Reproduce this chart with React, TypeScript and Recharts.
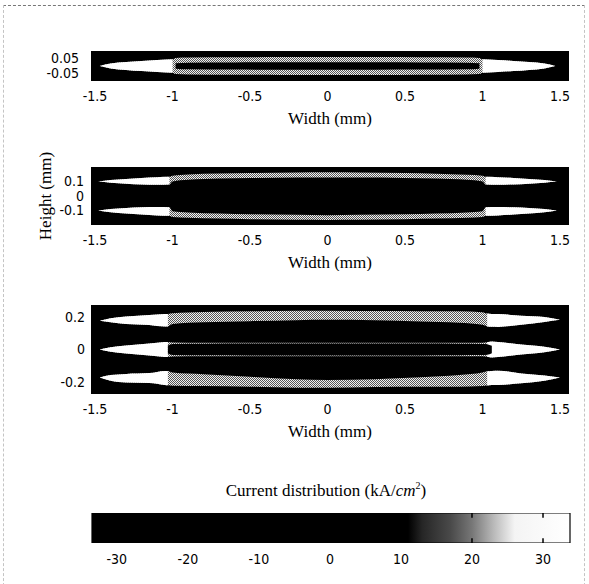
import React from "react"
import { ComposedChart, Area, XAxis, YAxis, CartesianGrid, ReferenceLine } from "recharts"

// x axis shared by the three cross sections (mm)
const widthTicks = [-1.5, -1, -0.5, 0, 0.5, 1, 1.5]
const widthDomain = [-1.526, 1.558]

// panel 1: thin strip, half thickness of the bright lens and the black core
const p1X = [-1.47, -1.4, -1.3, -1.2, -1.1, -1.0, -0.98, -0.9, -0.6, -0.3, 0, 0.3, 0.6, 0.9, 0.98, 1.0, 1.1, 1.2, 1.3, 1.4, 1.47]
const p1Outer = [0, 0.016, 0.026, 0.034, 0.04, 0.045, 0.054, 0.056, 0.058, 0.06, 0.06, 0.06, 0.058, 0.056, 0.054, 0.045, 0.04, 0.034, 0.026, 0.016, 0]
const p1Core = [null, null, null, null, null, null, 0.018, 0.022, 0.024, 0.025, 0.025, 0.025, 0.024, 0.022, 0.018, null, null, null, null, null, null]
const p1TipEdge = 1.0
const p1YTicks = [-0.05, 0.05]
const p1YDomain = [-0.1, 0.1]

// panel 2: upper and lower edge bands
const p2X = [-1.48, -1.4, -1.3, -1.2, -1.1, -1.02, -1.0, -0.9, -0.7, -0.5, -0.2, 0, 0.2, 0.5, 0.7, 0.9, 1.0, 1.02, 1.1, 1.2, 1.3, 1.4, 1.48]
const p2UpLo = [0.1, 0.092, 0.085, 0.08, 0.078, 0.08, 0.1, 0.112, 0.12, 0.124, 0.128, 0.128, 0.128, 0.125, 0.12, 0.112, 0.1, 0.08, 0.078, 0.08, 0.085, 0.092, 0.1]
const p2UpHi = [0.1, 0.11, 0.118, 0.125, 0.13, 0.132, 0.14, 0.148, 0.155, 0.158, 0.162, 0.163, 0.162, 0.158, 0.154, 0.147, 0.14, 0.132, 0.13, 0.125, 0.118, 0.11, 0.1]
const p2LowLo = [-0.1, -0.112, -0.12, -0.128, -0.134, -0.136, -0.145, -0.15, -0.156, -0.16, -0.164, -0.165, -0.164, -0.16, -0.156, -0.15, -0.145, -0.136, -0.134, -0.128, -0.12, -0.112, -0.1]
const p2LowHi = [-0.1, -0.09, -0.083, -0.078, -0.076, -0.078, -0.105, -0.113, -0.12, -0.126, -0.13, -0.132, -0.13, -0.126, -0.12, -0.113, -0.105, -0.078, -0.076, -0.078, -0.083, -0.09, -0.1]
const p2TipEdge = 1.02
const p2YTicks = [-0.1, 0, 0.1]
const p2YDomain = [-0.2, 0.2]

// panel 3: top, middle and bottom bands
const p3X = [-1.47, -1.4, -1.3, -1.15, -1.05, -1.03, -1.0, -0.8, -0.5, -0.2, 0, 0.3, 0.6, 0.85, 1.0, 1.03, 1.06, 1.1, 1.25, 1.4, 1.5]
const p3TopLo = [0.175, 0.165, 0.155, 0.149, 0.14, 0.14, 0.155, 0.165, 0.172, 0.178, 0.18, 0.178, 0.17, 0.162, 0.15, 0.14, 0.138, 0.137, 0.15, 0.167, 0.18]
const p3TopHi = [0.175, 0.19, 0.2, 0.209, 0.215, 0.216, 0.22, 0.228, 0.232, 0.235, 0.235, 0.233, 0.232, 0.232, 0.226, 0.218, 0.216, 0.215, 0.205, 0.197, 0.18]
const p3BotLo = [-0.17, -0.19, -0.2, -0.203, -0.215, -0.217, -0.22, -0.222, -0.226, -0.232, -0.232, -0.228, -0.226, -0.226, -0.222, -0.218, -0.216, -0.215, -0.205, -0.19, -0.17]
const p3BotHi = [-0.17, -0.155, -0.148, -0.143, -0.13, -0.13, -0.14, -0.15, -0.165, -0.18, -0.185, -0.18, -0.168, -0.155, -0.14, -0.132, -0.13, -0.129, -0.145, -0.158, -0.17]
const p3Mid = [0, 0.014, 0.024, 0.036, 0.045, 0.046, 0.042, 0.041, 0.041, 0.041, 0.041, 0.041, 0.041, 0.041, 0.041, 0.044, 0.048, 0.045, 0.03, 0.016, 0]
const p3Core = [null, null, null, null, null, 0.025, 0.033, 0.035, 0.036, 0.036, 0.036, 0.036, 0.036, 0.035, 0.034, 0.032, 0.022, null, null, null, null]
const p3TipEdge = 1.03
const p3YTicks = [-0.2, 0, 0.2]
const p3YDomain = [-0.27, 0.27]

// colour bar (kA/cm^2)
const cbTicks = [-30, -20, -10, 0, 10, 20, 30]
const cbDomain = [-33.5, 33.8]
const cbStopValues = [-33.5, 11, 13, 17, 20, 23, 26, 33.8]
const cbStopColors = ["#000", "#000", "#262626", "#4a4a4a", "#777", "#b8b8b8", "#f4f4f4", "#fff"]

const sans = "'DejaVu Sans Condensed', 'Liberation Sans Narrow', 'DejaVu Sans', sans-serif"
const serif = "'Liberation Serif', 'DejaVu Serif', serif"
const tickStyle = { fill: "#000", fontSize: 14, fontFamily: sans, style: { fontFamily: sans, fontStretch: "condensed" } }
const labelStyle = { fill: "#000", fontSize: 17, fontFamily: serif }

const sym = (h: number | null) => (h == null ? null : [-h, h])
const tipOnly = (x: number, edge: number, v: number[]) => (Math.abs(x) >= edge ? v : null)

const p1Rows = p1X.map((x, i) => ({
  x,
  outer: sym(p1Outer[i]),
  tip: tipOnly(x, p1TipEdge, [-p1Outer[i], p1Outer[i]]),
  core: sym(p1Core[i]),
}))

const p2Rows = p2X.map((x, i) => ({
  x,
  up: [p2UpLo[i], p2UpHi[i]],
  upTip: tipOnly(x, p2TipEdge, [p2UpLo[i], p2UpHi[i]]),
  low: [p2LowLo[i], p2LowHi[i]],
  lowTip: tipOnly(x, p2TipEdge, [p2LowLo[i], p2LowHi[i]]),
}))

const p3Rows = p3X.map((x, i) => ({
  x,
  top: [p3TopLo[i], p3TopHi[i]],
  topTip: tipOnly(x, p3TipEdge, [p3TopLo[i], p3TopHi[i]]),
  bot: [p3BotLo[i], p3BotHi[i]],
  botTip: tipOnly(x, p3TipEdge, [p3BotLo[i], p3BotHi[i]]),
  mid: sym(p3Mid[i]),
  midTip: tipOnly(x, p3TipEdge, [-p3Mid[i], p3Mid[i]]),
  core: sym(p3Core[i]),
}))

// the bar itself spans the whole value range
const cbRows = cbDomain.map((v) => ({ v, bar: [0, 1] }))

function Dither({ id }: { id: string }) {
  return (
    <defs>
      <pattern id={id} width="2" height="2" patternUnits="userSpaceOnUse">
        <rect width="2" height="2" fill="#f2f2f2" />
        <rect x="0" y="0" width="1" height="1" fill="#555" />
        <rect x="1" y="1" width="1" height="1" fill="#555" />
      </pattern>
    </defs>
  )
}

function band(key: string, fill: string) {
  return (
    <Area
      key={key}
      dataKey={key}
      type="monotone"
      stroke="none"
      fill={fill}
      fillOpacity={1}
      dot={false}
      activeDot={false}
      isAnimationActive={false}
    />
  )
}

interface PanelProps {
  top: number
  marginTop: number
  height: number
  rows: any[]
  yDomain: number[]
  yTicks: number[]
  yTickMargin: number
  yLabel?: string
  children: React.ReactNode
}

function Panel({ top, marginTop, height, rows, yDomain, yTicks, yTickMargin, yLabel, children }: PanelProps) {
  return (
    <div style={{ position: "absolute", left: 0, top }}>
      <ComposedChart width={589} height={height} data={rows} margin={{ top: marginTop, right: 20, bottom: 0, left: 0 }}>
        {children}
        <CartesianGrid fill="#000" horizontal={false} vertical={false} />
        <XAxis
          dataKey="x"
          type="number"
          domain={widthDomain}
          ticks={widthTicks}
          allowDataOverflow
          interval={0}
          axisLine={false}
          tickLine={false}
          tickSize={6}
          tickMargin={4}
          height={46}
          tick={tickStyle}
          label={{ value: "Width (mm)", position: "insideBottom", offset: 3, ...labelStyle, style: { fontFamily: serif } }}
        />
        <YAxis
          type="number"
          domain={yDomain}
          ticks={yTicks}
          allowDataOverflow
          interval={0}
          axisLine={false}
          tickLine={false}
          tickSize={6}
          tickMargin={yTickMargin}
          width={91}
          tick={tickStyle}
          label={
            yLabel
              ? {
                  value: yLabel,
                  angle: -90,
                  position: "insideLeft",
                  offset: 45,
                  ...labelStyle,
                  style: { textAnchor: "middle", fontFamily: serif },
                }
              : undefined
          }
        />
      </ComposedChart>
    </div>
  )
}

export default function App() {
  const cbSpan = cbDomain[1] - cbDomain[0]
  return (
    <div style={{ position: "absolute", left: 0, top: 0, width: 589, height: 584, background: "#fff", overflow: "hidden" }}>
      <div
        style={{
          position: "absolute",
          left: 3,
          top: 5,
          width: 580,
          height: 600,
          borderTop: "1px dashed #777",
          borderLeft: "1px dashed #c4c4c4",
          borderRight: "1px dashed #c4c4c4",
        }}
      />

      <Panel top={0} marginTop={51} height={127} rows={p1Rows} yDomain={p1YDomain} yTicks={p1YTicks} yTickMargin={6}>
        <Dither id="d1" />
        {band("outer", "url(#d1)")}
        {band("tip", "#fff")}
        {band("core", "#000")}
      </Panel>

      <Panel top={120} marginTop={47} height={151} rows={p2Rows} yDomain={p2YDomain} yTicks={p2YTicks} yTickMargin={1} yLabel="Height (mm)">
        <Dither id="d2" />
        {band("up", "url(#d2)")}
        {band("upTip", "#fff")}
        {band("low", "url(#d2)")}
        {band("lowTip", "#fff")}
      </Panel>

      <Panel top={260} marginTop={45} height={180} rows={p3Rows} yDomain={p3YDomain} yTicks={p3YTicks} yTickMargin={0}>
        <Dither id="d3" />
        {band("top", "url(#d3)")}
        {band("topTip", "#fff")}
        {band("bot", "url(#d3)")}
        {band("botTip", "#fff")}
        {band("mid", "url(#d3)")}
        {band("midTip", "#fff")}
        {band("core", "#000")}
      </Panel>

      <div
        style={{
          position: "absolute",
          left: 126,
          top: 476,
          width: 400,
          textAlign: "center",
          fontFamily: serif,
          fontSize: 17,
          lineHeight: "20px",
          color: "#000",
        }}
      >
        Current distribution (kA/<i>cm</i>
        <sup style={{ fontSize: 10 }}>2</sup>)
      </div>

      <div style={{ position: "absolute", left: 0, top: 470 }}>
        <ComposedChart width={589} height={104} data={cbRows} margin={{ top: 43, right: 19, bottom: 0, left: 92 }}>
          <defs>
            <linearGradient id="cbGrad" x1="0" y1="0" x2="1" y2="0">
              {cbStopValues.map((v, i) => (
                <stop key={i} offset={(v - cbDomain[0]) / cbSpan} stopColor={cbStopColors[i]} />
              ))}
            </linearGradient>
          </defs>
          <XAxis
            dataKey="v"
            type="number"
            domain={cbDomain}
            ticks={cbTicks}
            allowDataOverflow
            interval={0}
            axisLine={false}
            tickLine={false}
            tickSize={6}
            tickMargin={5}
            height={31}
            tick={tickStyle}
          />
          <YAxis hide type="number" domain={[0, 1]} allowDataOverflow />
          <Area
            dataKey="bar"
            type="linear"
            stroke="#000"
            strokeWidth={1.2}
            fill="url(#cbGrad)"
            fillOpacity={1}
            dot={false}
            activeDot={false}
            isAnimationActive={false}
          />
          {cbDomain.map((v) => (
            <ReferenceLine key={"e" + v} x={v} stroke="#000" strokeWidth={1.2} ifOverflow="visible" />
          ))}
          {cbTicks.map((v) => (
            <ReferenceLine key={"t" + v} segment={[{ x: v, y: 1 }, { x: v, y: 0.84 }]} stroke="#000" strokeWidth={1.5} ifOverflow="visible" />
          ))}
          {cbTicks.map((v) => (
            <ReferenceLine key={"b" + v} segment={[{ x: v, y: 0 }, { x: v, y: 0.16 }]} stroke="#000" strokeWidth={1.5} ifOverflow="visible" />
          ))}
        </ComposedChart>
      </div>
    </div>
  )
}
